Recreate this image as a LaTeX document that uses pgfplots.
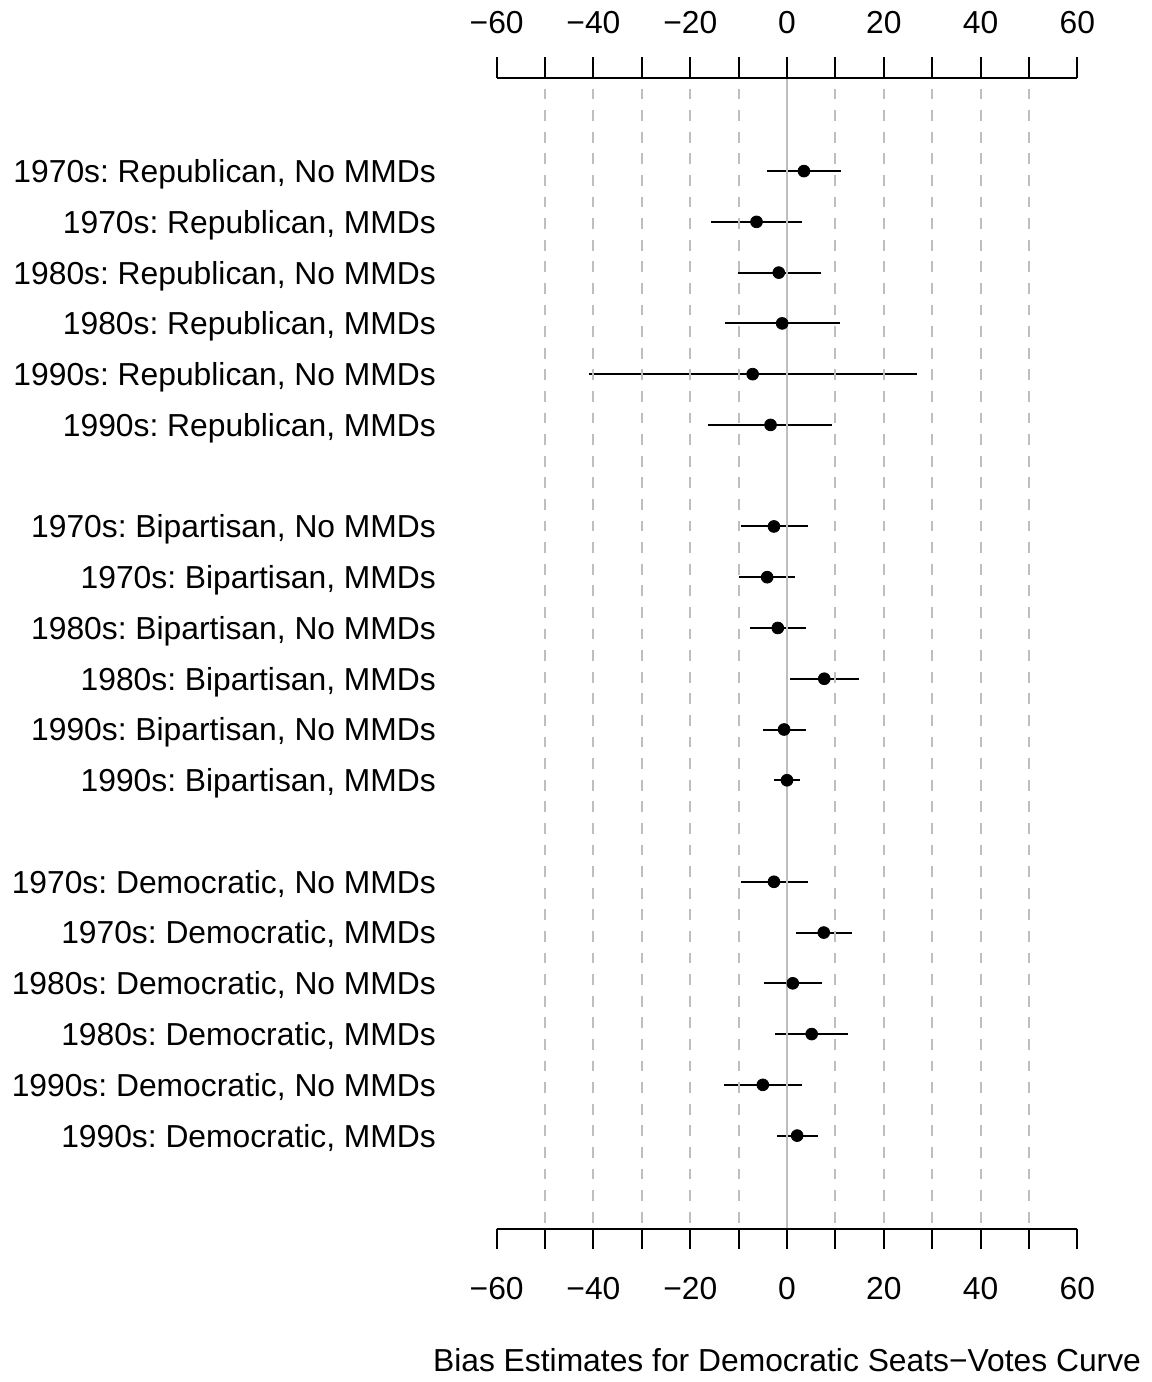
\documentclass[border=0pt]{standalone}
\usepackage{pgfplots}
\pgfplotsset{compat=1.18}
\usepackage{pgfplotstable}
\usepackage{fontspec}
\setmainfont{Liberation Sans}
\newcommand\lab{\fontsize{15.9bp}{19bp}\selectfont\frenchspacing}
\definecolor{rgray}{HTML}{BEBEBE}

% row position, point estimate, lower and upper interval ends
\pgfplotstableread{
pos est lo hi
1 3.5 -4.1 11.2
2 -6.3 -15.7 3.0
3 -1.7 -10.2 7.0
4 -1.0 -12.9 11.0
5 -7.1 -41.0 26.9
6 -3.4 -16.3 9.4
8 -2.7 -9.6 4.4
9 -4.1 -9.9 1.6
10 -1.9 -7.7 4.0
11 7.7 0.6 14.9
12 -0.6 -4.9 3.9
13 0.0 -2.6 2.6
15 -2.7 -9.6 4.4
16 7.6 1.9 13.4
17 1.2 -4.7 7.3
18 5.1 -2.4 12.7
19 -5.0 -13.0 3.2
20 2.1 -2.1 6.5
}\biastable

\pgfplotsset{
  common/.style={
    scale only axis, width=290.3bp, height=575.65bp,
    xmin=-60, xmax=60, ymin=-0.84, ymax=21.84, y dir=reverse,
    axis lines=box, separate axis lines,
    y axis line style={draw=none},
    x axis line style={line width=1bp, black},
    tick align=outside, major tick length=10.2bp,
    major x tick style={line width=1bp, black},
    xtick={-60,-50,...,60},
    xticklabels={−60,{},−40,{},−20,{},0,{},20,{},40,{},60},
    tick label style={font=\lab},
    label style={font=\lab},
  }
}

\begin{document}
\begin{tikzpicture}
\begin{axis}[common, name=main, clip=false,
    xtick pos=right, xticklabel pos=right,
    xticklabel style={yshift=8bp},
    ytick={1,2,3,4,5,6,8,9,10,11,12,13,15,16,17,18,19,20},
    yticklabels={
      {1970s: Republican, No MMDs}, {1970s: Republican, MMDs},
      {1980s: Republican, No MMDs}, {1980s: Republican, MMDs},
      {1990s: Republican, No MMDs}, {1990s: Republican, MMDs},
      {1970s: Bipartisan, No MMDs}, {1970s: Bipartisan, MMDs},
      {1980s: Bipartisan, No MMDs}, {1980s: Bipartisan, MMDs},
      {1990s: Bipartisan, No MMDs}, {1990s: Bipartisan, MMDs},
      {1970s: Democratic, No MMDs}, {1970s: Democratic, MMDs},
      {1980s: Democratic, No MMDs}, {1980s: Democratic, MMDs},
      {1990s: Democratic, No MMDs}, {1990s: Democratic, MMDs}},
    ytick pos=left, major y tick style={draw=none},
    yticklabel style={anchor=base east, inner sep=0pt, xshift=-20bp, yshift=-5.7bp},
  ]
  \addplot[black, only marks, mark=*, mark size=2.95bp,
    error bars/.cd, x dir=both, x explicit, error mark=none,
    error bar style={line width=1bp, black}]
    table[x=est, y=pos,
      x error plus expr=\thisrow{hi}-\thisrow{est},
      x error minus expr=\thisrow{est}-\thisrow{lo}] {\biastable};
  % reference lines drawn over the estimates
  \pgfplotsinvokeforeach{-50,-40,-30,-20,-10,10,20,30,40,50}{
    \draw[rgray, line width=1bp, dash pattern=on 5.4bp off 5.4bp, dash phase=5.4bp]
      (axis cs:#1,-0.84) -- (axis cs:#1,21.84);
  }
  \draw[rgray, line width=1bp] (axis cs:0,-0.84) -- (axis cs:0,21.84);
\end{axis}
\begin{axis}[common, y dir=normal, at={(main.south west)}, anchor=south west,
    xtick pos=left, xticklabel pos=left,
    xticklabel style={yshift=-10.5bp},
    ytick=\empty,
    xlabel={Bias Estimates for Democratic Seats−Votes Curve},
    xlabel style={at={(axis description cs:0.5,0)}, anchor=base, yshift=-71.2bp},
  ]
\end{axis}
\path (main.north west) ++(-248.35bp,38.85bp) rectangle ++(576bp,-691bp);
\end{tikzpicture}
\end{document}
